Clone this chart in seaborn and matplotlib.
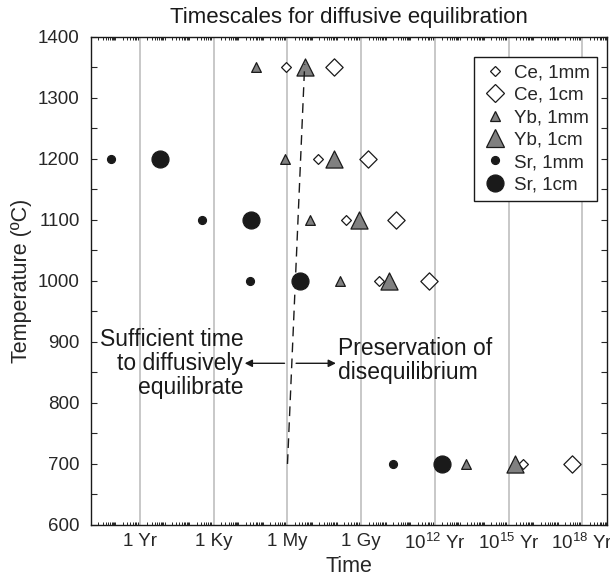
import numpy as np
import pandas as pd
import matplotlib
matplotlib.use("Agg")
import matplotlib.pyplot as plt
import matplotlib.ticker as mticker
from matplotlib.lines import Line2D
import seaborn as sns

sns.set_style("ticks")
plt.rcParams['font.family'] = ['Liberation Sans', 'DejaVu Sans']
plt.rcParams['mathtext.fontset'] = 'custom'
plt.rcParams['mathtext.rm'] = 'Liberation Sans'
plt.rcParams['mathtext.it'] = 'Liberation Sans'

# --- data: log10(time in years) ---
sr_temp = [1200, 1100, 1000, 700]
sr_1mm = [-1.19, 2.51, 4.49, 10.31]
sr_1cm = [0.80, 4.51, 6.49, 12.30]

yb_temp = [1350, 1200, 1100, 1000, 700]
yb_1mm = [4.73, 5.90, 6.90, 8.12, 13.27]
yb_1cm = [6.72, 7.89, 8.92, 10.13, 15.27]

ce_temp = [1350, 1200, 1100, 1000, 700]
ce_1mm = [5.92, 7.23, 8.40, 9.73, 15.57]
ce_1cm = [7.90, 9.26, 10.40, 11.76, 17.56]

boundary_temp = [700, 1355]
boundary_logt = [6.0, 6.7]

tick_exps = [0, 3, 6, 9, 12, 15, 18]
tick_labels = ["1 Yr", "1 Ky", "1 My", "1 Gy", "10$^{12}$ Yr", "10$^{15}$ Yr", "10$^{18}$ Yr"]

fig = plt.figure(figsize=(6.10, 5.79), dpi=100)
ax = fig.add_axes([0.149, 0.0933, 0.846, 0.843])

series = [
    ("Ce, 1mm", ce_temp, ce_1mm, "D", 5.0, "white", "#1a1a1a"),
    ("Ce, 1cm", ce_temp, ce_1cm, "D", 8.8, "white", "#1a1a1a"),
    ("Yb, 1mm", yb_temp, yb_1mm, "^", 7.0, "#808080", "#1a1a1a"),
    ("Yb, 1cm", yb_temp, yb_1cm, "^", 12.3, "#808080", "#1a1a1a"),
    ("Sr, 1mm", sr_temp, sr_1mm, "o", 5.7, "#1a1a1a", "#1a1a1a"),
    ("Sr, 1cm", sr_temp, sr_1cm, "o", 12.2, "#1a1a1a", "#1a1a1a"),
]

ax.set_xscale("log")
handles = []
for label, temps, logt, mk, ms, fc, ec in series:
    df = pd.DataFrame({"time": np.power(10.0, logt), "temp": temps})
    sns.scatterplot(data=df, x="time", y="temp", ax=ax, marker=mk, s=ms**2,
                    color=fc, edgecolor=ec, linewidth=0.9, zorder=3, legend=False)
    handles.append(Line2D([], [], linestyle="none", marker=mk, markersize=ms,
                          markerfacecolor=fc, markeredgecolor=ec, markeredgewidth=0.9,
                          label=label))

# boundary dashed line
bdf = pd.DataFrame({"time": np.power(10.0, boundary_logt), "temp": boundary_temp})
sns.lineplot(data=bdf, x="time", y="temp", ax=ax, color="#1a1a1a", linewidth=1.0,
             linestyle=(0, (7, 4.5)), zorder=4, estimator=None, sort=False)

ax.set_xlim(1e-2, 1e19)
ax.set_ylim(600, 1400)

# gridlines at labeled ticks
ax.xaxis.set_major_locator(mticker.FixedLocator([10.0**e for e in tick_exps]))
ax.xaxis.set_major_formatter(mticker.FixedFormatter(tick_labels))
ax.xaxis.set_minor_locator(mticker.LogLocator(base=10, subs=np.arange(1, 10), numticks=200))
ax.xaxis.set_minor_formatter(mticker.NullFormatter())
for e in tick_exps:
    ax.axvline(10.0**e, color="#c8c8c8", linewidth=1.4, zorder=1)

ax.yaxis.set_major_locator(mticker.MultipleLocator(100))
ax.yaxis.set_minor_locator(mticker.MultipleLocator(50))

ax.tick_params(axis="both", which="both", direction="in", top=True, right=True)
ax.tick_params(axis="x", which="major", length=0, labelsize=13.5, pad=6)
ax.tick_params(axis="x", which="minor", length=2.5, width=0.7)
ax.tick_params(axis="y", which="major", length=4, width=0.8, labelsize=13.5, pad=8)
ax.tick_params(axis="y", which="minor", length=4, width=0.8)
for sp in ax.spines.values():
    sp.set_linewidth(1.0)
    sp.set_color("#1a1a1a")

ax.set_xlabel("Time", fontsize=15.5, labelpad=2)
ax.set_ylabel("Temperature (ºC)", fontsize=15.5, labelpad=4)
fig.text(0.149 + 0.846 / 2, 1 - 23 / 579, "Timescales for diffusive equilibration",
         ha="center", va="baseline", fontsize=16, color="#1a1a1a")

# arrows and annotations
arrow_T = 865
ax.annotate("", xy=(10**4.26, arrow_T), xytext=(10**5.88, arrow_T),
            arrowprops=dict(arrowstyle="-|>", color="#1a1a1a", lw=1.0,
                            mutation_scale=11, shrinkA=0, shrinkB=0))
ax.annotate("", xy=(10**7.97, arrow_T), xytext=(10**6.35, arrow_T),
            arrowprops=dict(arrowstyle="-|>", color="#1a1a1a", lw=1.0,
                            mutation_scale=11, shrinkA=0, shrinkB=0))
ax.text(10**4.2, arrow_T, "Sufficient time\nto diffusively\nequilibrate",
        ha="right", va="center", fontsize=16.5, color="#1a1a1a", linespacing=1.05)
ax.text(10**8.05, arrow_T + 4, "Preservation of\ndisequilibrium",
        ha="left", va="center", fontsize=16.5, color="#1a1a1a", linespacing=1.05)

leg = ax.legend(handles=handles, loc="upper right", fontsize=13.5, frameon=True,
                fancybox=False, edgecolor="#1a1a1a", framealpha=1,
                handletextpad=0.3, labelspacing=0.28, borderpad=0.4,
                handlelength=1.4, borderaxespad=0, bbox_to_anchor=(0.981, 0.959))
leg.get_frame().set_linewidth(1.0)

fig.savefig("out.png", dpi=100)
